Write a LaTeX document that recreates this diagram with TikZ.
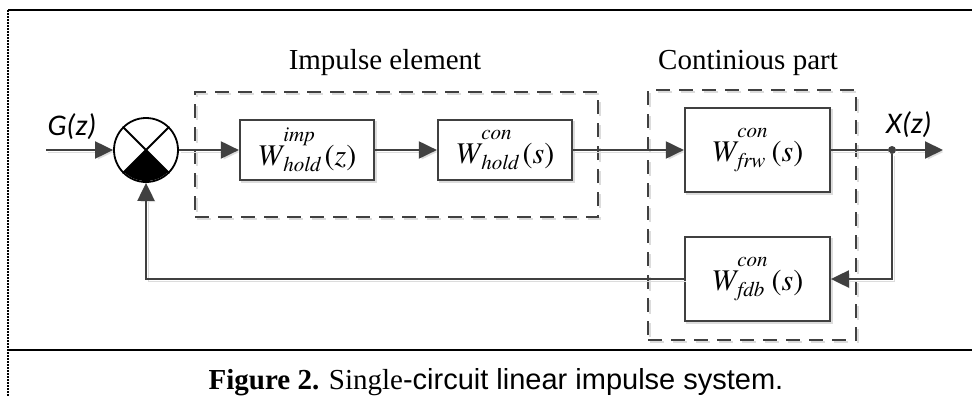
\documentclass[tikz,border=0pt]{standalone}
\usepackage[T1]{fontenc}
\usepackage{fontspec}
\setmainfont{Liberation Serif}
\newfontfamily\capsans{Liberation Sans}
\newfontfamily\sigfont{Carlito}
\usetikzlibrary{arrows.meta,positioning,calc,fit}
\definecolor{linegray}{RGB}{64,64,64}
\definecolor{shadowgray}{RGB}{220,220,220}
\newsavebox\wsupbox
\newsavebox\wsubbox
\newcommand{\tms}{\fontencoding{T1}\fontfamily{ptm}\selectfont}
\newcommand{\scriptsz}{\fontsize{21}{24}\selectfont}
\newcommand{\Wtf}[3]{%
  \tms
  \sbox\wsupbox{\scriptsz\itshape #1}\sbox\wsubbox{\scriptsz\itshape #2}%
  {\itshape W}\kern1pt
  \rlap{\raisebox{0.8em}{\usebox\wsupbox}}%
  \rlap{\raisebox{-0.2em}{\usebox\wsubbox}}%
  \ifdim\wd\wsupbox>\wd\wsubbox\hspace{\wd\wsupbox}\else\hspace{\wd\wsubbox}\fi
  \kern4pt(\textit{#3})}

\begin{document}
\begin{tikzpicture}[x=1pt, y=-1pt,
    shdw/.style={preaction={draw=shadowgray, transform canvas={xshift=2pt, yshift=-2pt}}},
    blk/.style={shdw, draw=linegray, line width=2pt, fill=white, minimum width=134pt,
                minimum height=60pt, inner sep=0pt, font=\fontsize{30}{36}\selectfont},
    bigblk/.style={blk, minimum width=145pt, minimum height=84pt},
    grp/.style={shdw, draw=linegray, line width=2pt, dash pattern=on 14pt off 9pt, inner sep=0pt},
    grplabel/.style={font=\fontsize{29}{34}\selectfont},
    sig/.style={font=\sigfont\itshape\fontsize{30}{35}\selectfont},
    sumnode/.style={circle, draw=black, line width=1.8pt, fill=white,
                    minimum size=64pt, inner sep=0pt},
    dot/.style={circle, fill=linegray, minimum size=8pt, inner sep=0pt},
    wire/.style={shdw, draw=linegray, line width=2pt, -{Triangle[length=18pt,width=17pt]}},
    fbline/.style={shdw, draw=linegray, line width=2pt}]
\useasboundingbox (0,0) rectangle (972,396);
% frame
\draw[line width=2.5pt] (972,10) -- (8,10);
\draw[line width=2.5pt, dash pattern=on 2pt off 1pt] (8,10) -- (8,396);
\draw[line width=2.5pt] (8,350) -- (972,350);
% groups
\node[grp, fit={(195,92) (598,217)}] (impgrp) {};
\node[grp, fit={(648,90) (856,340)}] (congrp) {};
\node[grplabel] (implabel) at (385,63) {Impulse element};
\node[grplabel] (conlabel) at (748,63) {Continious part};
% summing junction
\node[sumnode] (sum) at (146,150) {};
\begin{scope}
  \clip (sum.center) -- ++(-80,80) -- ++(160,0) -- cycle;
  \fill (sum.center) circle[radius=31pt];
\end{scope}
\draw[line width=1.8pt] (sum.45) -- (sum.-135) (sum.135) -- (sum.-45);
% blocks
\node[blk, right=60pt of sum] (himp) {\Wtf{imp}{hold}{z}};
\node[blk, right=62pt of himp] (hcon) {\Wtf{con}{hold}{s}};
\node[bigblk, right=111pt of hcon] (frw) {\Wtf{con}{frw}{s}};
\node[bigblk, below=43pt of frw] (fdb) {\Wtf{con}{fdb}{s}};
\node[dot] (branch) at (892,150) {};
\coordinate (gin) at (46,150);
\coordinate (xout) at (943,150);
\node[sig] (glabel) at (72,127) {G(z)};
\node[sig] (xlabel) at (909,125) {X(z)};
% connectors
\draw[wire] (gin) -- (sum);
\draw[wire] (sum) -- (himp);
\draw[wire] (himp) -- (hcon);
\draw[wire] (hcon) -- (frw);
\draw[fbline] (frw) -- (branch);
\draw[wire] (branch) -- (xout);
\draw[wire] (branch) |- (fdb);
\draw[wire] (fdb) -| (sum);
% caption
\node[anchor=base, font=\fontsize{29}{34}\selectfont] (caption) at (496,389)
  {\textbf{Figure 2.} Single{\capsans -circuit linear impulse system.}};
\end{tikzpicture}
\end{document}
